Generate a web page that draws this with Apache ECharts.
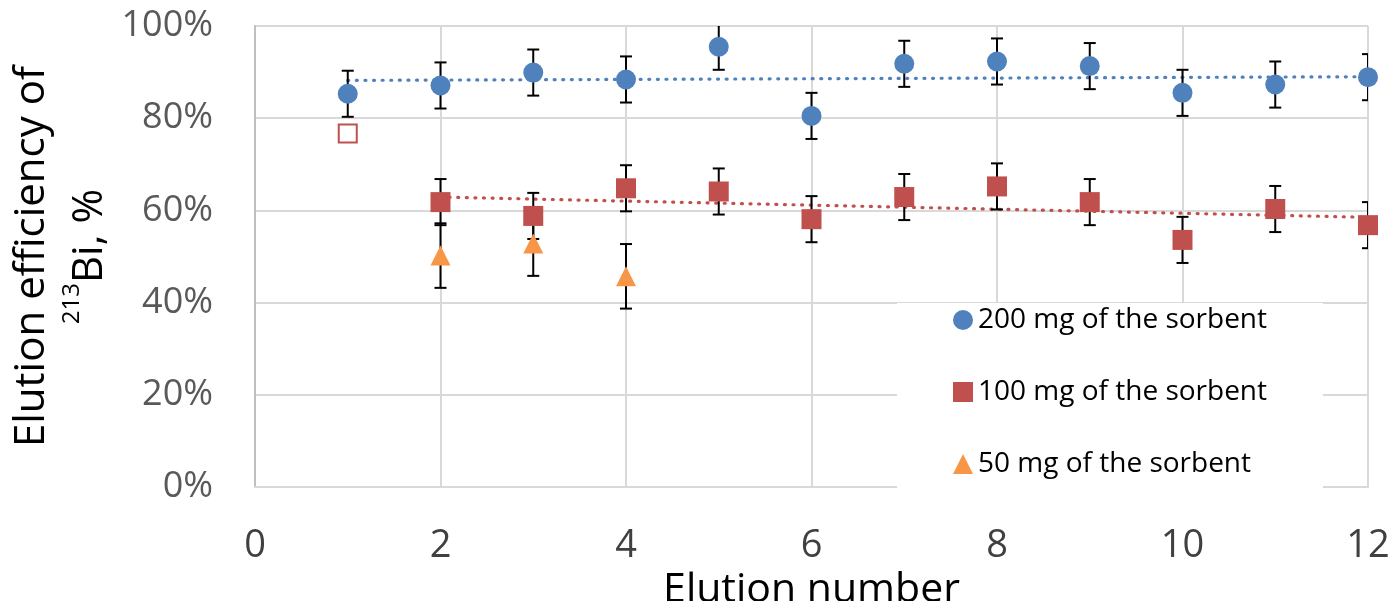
<!DOCTYPE html>
<html><head><meta charset="utf-8">
<script src="https://cdn.jsdelivr.net/npm/echarts@6/dist/echarts.min.js"></script>
<style>html,body{margin:0;padding:0;background:#fff}#c{width:1396px;height:601px}</style>
</head><body><div id="c"></div>
<script>
// ---- data ----
const xTicks = [0, 2, 4, 6, 8, 10, 12];
const yTicks = [0, 20, 40, 60, 80, 100];

const names = ['200 mg of the sorbent', '100 mg of the sorbent', '50 mg of the sorbent'];

const elution200 = [1, 2, 3, 4, 5, 6, 7, 8, 9, 10, 11, 12];
const eff200 = [85.3, 87.1, 89.9, 88.4, 95.5, 80.5, 91.8, 92.3, 91.3, 85.5, 87.3, 88.9];
const err200 = [5, 5, 5, 5, 5, 5, 5, 5, 5, 5, 5, 5];

const elution100 = [2, 3, 4, 5, 6, 7, 8, 9, 10, 11, 12];
const eff100 = [61.8, 58.8, 64.8, 64.1, 58.1, 62.9, 65.2, 61.8, 53.6, 60.3, 56.8];
const err100 = [5, 5, 5, 5, 5, 5, 5, 5, 5, 5, 5];

const elution50 = [2, 3, 4];
const eff50 = [50.2, 52.8, 45.7];
const err50 = [7, 7, 7];

const outlierX = [1];
const outlierY = [76.7];

const trend200X = [1, 12];
const trend200Y = [88.2, 89.0];
const trend100X = [2, 12];
const trend100Y = [62.9, 58.5];

// ---- build ----
const FONT = 'Open Sans';
const C_BLUE = '#4F81BD', C_RED = '#C0504D', C_ORANGE = '#F79646';

const pts = (xs, ys) => xs.map((x, i) => [x, ys[i]]);
const errPts = (xs, ys, es) => xs.map((x, i) => [x, ys[i] - es[i], ys[i] + es[i]]);

function renderErr(params, api) {
  const x = api.value(0), lo = api.value(1), hi = api.value(2);
  const pLo = api.coord([x, lo]), pHi = api.coord([x, hi]);
  const hw = 6;
  const style = { stroke: '#000', lineWidth: 2, fill: null };
  return {
    type: 'group',
    children: [
      { type: 'line', shape: { x1: pLo[0], y1: pLo[1], x2: pHi[0], y2: pHi[1] }, style },
      { type: 'line', shape: { x1: pLo[0] - hw, y1: pLo[1], x2: pLo[0] + hw, y2: pLo[1] }, style },
      { type: 'line', shape: { x1: pHi[0] - hw, y1: pHi[1], x2: pHi[0] + hw, y2: pHi[1] }, style }
    ]
  };
}
function errSeries(data) {
  return { type: 'custom', renderItem: renderErr, data, clip: true, z: 3, silent: true,
           encode: { x: 0, y: [1, 2] } };
}
function trendSeries(xs, ys, color) {
  return { type: 'line', data: pts(xs, ys), symbol: 'none', z: 2, silent: true,
           lineStyle: { color, width: 3.2, type: [1, 7.6], cap: 'round' } };
}

const chart = echarts.init(document.getElementById('c'), null, { renderer: 'canvas' });
chart.setOption({
  animation: false,
  backgroundColor: '#fff',
  textStyle: { fontFamily: FONT },
  grid: { left: 255, right: 28, top: 26, bottom: 114, containLabel: false, outerBoundsMode: 'none' },
  xAxis: {
    type: 'value', min: xTicks[0], max: xTicks[xTicks.length - 1], interval: xTicks[1] - xTicks[0],
    axisLine: { show: true, lineStyle: { color: '#d9d9d9', width: 2 } },
    axisTick: { show: false },
    splitLine: { show: true, lineStyle: { color: '#d9d9d9', width: 2 } },
    axisLabel: { fontFamily: FONT, fontSize: 38, color: '#404040', margin: 40 },
    name: 'Elution number', nameLocation: 'middle', nameGap: 69,
    nameTextStyle: { fontFamily: FONT, fontSize: 41, color: '#000' }
  },
  yAxis: {
    type: 'value', min: yTicks[0], max: yTicks[yTicks.length - 1], interval: yTicks[1] - yTicks[0],
    axisLine: { show: true, lineStyle: { color: '#bfbfbf', width: 2 } },
    axisTick: { show: false },
    splitLine: { show: true, lineStyle: { color: '#d9d9d9', width: 2 } },
    axisLabel: { fontFamily: FONT, fontSize: 36, color: '#595959', margin: 42, formatter: '{value}%' },
    name: '{a|Elution efficiency of}\n{s|213}{b|Bi, %}',
    nameLocation: 'middle', nameGap: 130, nameRotate: 90,
    nameTextStyle: {
      fontFamily: FONT, color: '#000', fontSize: 42,
      rich: {
        a: { fontFamily: FONT, fontSize: 42, lineHeight: 58, color: '#000' },
        s: { fontFamily: FONT, fontSize: 24, lineHeight: 24, verticalAlign: 'top', color: '#000' },
        b: { fontFamily: FONT, fontSize: 42, lineHeight: 58, color: '#000' }
      }
    }
  },
  legend: {
    orient: 'vertical', left: 897, top: 303,
    padding: [3, 56, 16, 56],
    backgroundColor: '#fff',
    itemWidth: 20, itemHeight: 20, itemGap: 44, z: 10,
    data: names,
    textStyle: { fontFamily: FONT, fontSize: 28, color: '#000', lineHeight: 20 }
  },
  series: [
    trendSeries(trend200X, trend200Y, C_BLUE),
    trendSeries(trend100X, trend100Y, C_RED),
    errSeries(errPts(elution200, eff200, err200)),
    errSeries(errPts(elution100, eff100, err100)),
    errSeries(errPts(elution50, eff50, err50)),
    { name: names[0], type: 'scatter', symbol: 'circle', symbolSize: 20, z: 4,
      itemStyle: { color: C_BLUE, opacity: 1 }, data: pts(elution200, eff200) },
    { name: names[1], type: 'scatter', symbol: 'rect', symbolSize: 20, z: 4,
      itemStyle: { color: C_RED, opacity: 1 }, data: pts(elution100, eff100) },
    { name: names[2], type: 'scatter', symbol: 'triangle', symbolSize: 20, z: 4,
      itemStyle: { color: C_ORANGE, opacity: 1 }, data: pts(elution50, eff50) },
    { name: 'excluded', type: 'scatter', symbol: 'rect', symbolSize: 18, z: 4,
      itemStyle: { color: '#fff', borderColor: C_RED, borderWidth: 2, opacity: 1 },
      data: pts(outlierX, outlierY) }
  ]
});
</script>
</body></html>
